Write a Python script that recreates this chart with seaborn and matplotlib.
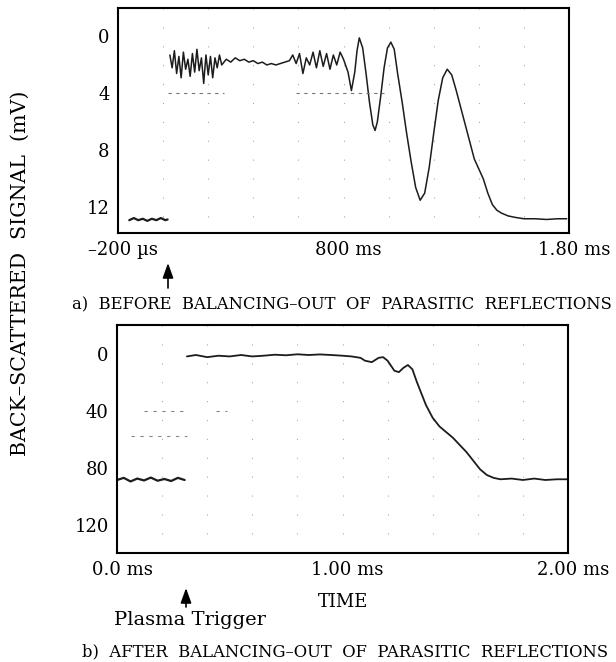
import numpy as np
import pandas as pd
import matplotlib
matplotlib.use("Agg")
import matplotlib.pyplot as plt
import matplotlib.transforms as mtransforms
from matplotlib.patches import FancyArrowPatch
import seaborn as sns

# ---------------- data ----------------
# a) before balancing-out: time in ms, signal in mV
top_pre_t = [-0.15, -0.13, -0.11, -0.09, -0.07, -0.05, -0.03, -0.01, 0.01, 0.02]
top_pre_v = [12.9, 12.75, 12.9, 12.8, 12.95, 12.8, 12.9, 12.75, 12.9, 12.85]

top_t = [0.03, 0.04, 0.05, 0.06, 0.07, 0.08, 0.09, 0.10, 0.11, 0.12, 0.13, 0.14,
         0.15, 0.16, 0.17, 0.18, 0.19, 0.20, 0.21, 0.22, 0.23, 0.24, 0.25, 0.26,
         0.28, 0.30, 0.32, 0.34, 0.36, 0.38, 0.40, 0.42, 0.44, 0.46, 0.48, 0.50,
         0.52, 0.54, 0.56,
         0.575, 0.59, 0.605, 0.62, 0.635, 0.65, 0.665, 0.68, 0.695, 0.71, 0.725,
         0.74, 0.755, 0.77, 0.785, 0.80,
         0.82, 0.835, 0.85, 0.86, 0.87, 0.885, 0.90, 0.915, 0.93, 0.94, 0.95,
         0.965, 0.98, 0.995, 1.01, 1.025, 1.04, 1.06, 1.08, 1.10, 1.12, 1.14,
         1.16, 1.18, 1.20, 1.22, 1.24, 1.26, 1.28, 1.30, 1.32, 1.34, 1.36, 1.38,
         1.40, 1.42, 1.44, 1.46, 1.48, 1.50, 1.53, 1.56, 1.60, 1.65, 1.70, 1.75,
         1.79]
top_v = [1.3, 2.2, 1.0, 2.6, 1.4, 2.9, 1.1, 2.3, 1.6, 2.8, 1.2, 2.5,
         0.9, 2.4, 1.5, 3.3, 1.3, 2.7, 1.4, 2.9, 1.5, 2.2, 1.3, 2.0,
         1.6, 1.8, 1.5, 1.7, 1.6, 1.8, 1.7, 1.9, 1.8, 2.0, 1.9, 2.0,
         1.9, 1.8, 1.7,
         1.3, 1.9, 1.2, 2.6, 1.5, 2.0, 1.1, 2.2, 1.0, 2.1, 1.2,
         2.3, 1.3, 2.0, 1.1, 1.6,
         2.5, 3.8, 2.5, 1.0, 0.1, 0.8, 2.6, 4.6, 6.2, 6.6, 6.0,
         4.2, 2.2, 0.8, 0.4, 0.9, 2.6, 4.6, 6.8, 8.8, 10.6, 11.5,
         11.0, 9.2, 6.8, 4.5, 2.9, 2.3, 2.7, 3.8, 5.0, 6.2, 7.4, 8.6,
         9.3, 10.0, 11.0, 11.8, 12.2, 12.4, 12.6, 12.7, 12.8, 12.8, 12.85, 12.8,
         12.8]

# b) after balancing-out
bot_pre_t = [0.0, 0.03, 0.06, 0.09, 0.12, 0.15, 0.18, 0.21, 0.24, 0.27, 0.30]
bot_pre_v = [88.5, 87.0, 89.5, 87.5, 88.8, 86.8, 89.0, 87.8, 89.2, 87.0, 88.5]

bot_t = [0.31, 0.35, 0.40, 0.45, 0.50, 0.55, 0.60, 0.65, 0.70, 0.75, 0.80, 0.85,
         0.90, 0.95, 1.00, 1.04, 1.08, 1.10, 1.13, 1.16, 1.18, 1.20, 1.23, 1.25,
         1.27, 1.29, 1.31, 1.33, 1.35, 1.37, 1.40, 1.43, 1.46, 1.49, 1.52, 1.55,
         1.58, 1.61, 1.64, 1.67, 1.70, 1.75, 1.80, 1.85, 1.90, 1.95, 2.00]
bot_v = [2.0, 1.0, 2.5, 1.5, 2.0, 1.0, 2.0, 1.5, 0.8, 1.2, 0.5, 1.0,
         0.6, 1.0, 1.5, 2.0, 3.0, 5.0, 6.0, 3.0, 2.5, 5.0, 12.0, 13.0,
         10.0, 8.0, 11.0, 20.0, 28.0, 36.0, 45.0, 51.0, 55.0, 59.0, 64.0, 69.0,
         75.0, 81.0, 85.0, 87.0, 88.0, 87.5, 88.5, 87.5, 88.5, 88.0, 88.0]

# faint graticule artefacts (level, start, end)
top_art = [(4.0, 0.02, 0.27), (4.0, 0.59, 0.98)]
bot_art = [(40.0, 0.12, 0.31), (40.0, 0.44, 0.49), (58.0, 0.06, 0.31)]

top_xticks = [-0.2, 0.8, 1.8]
top_xlabels = ["\u2013200 \u00b5s", "800 ms", "1.80 ms"]
top_yticks = [0, 4, 8, 12]
bot_xticks = [0.0, 1.0, 2.0]
bot_xlabels = ["0.0 ms", "1.00 ms", "2.00 ms"]
bot_yticks = [0, 40, 80, 120]

# ---------------- figure ----------------
sns.set_style("white")
plt.rcParams["font.family"] = ["DejaVu Serif", "DejaVu Sans"]
plt.rcParams["text.color"] = "black"
plt.rcParams["xtick.color"] = "black"
plt.rcParams["ytick.color"] = "black"

W, H = 616, 662
fig = plt.figure(figsize=(W / 100, H / 100), dpi=100)

def frac_box(l, t, r, b):
    return [l / W, 1 - b / H, (r - l) / W, (b - t) / H]

ax1 = fig.add_axes(frac_box(118, 8, 569, 233))
ax2 = fig.add_axes(frac_box(117, 325, 568, 553))

ink = "#1c1c1c"

def draw(ax, t, v, lw=1.2):
    sns.lineplot(x=t, y=v, ax=ax, color=ink, linewidth=lw, sort=False,
                 estimator=None, legend=False)

draw(ax1, top_pre_t, top_pre_v, 1.6)
draw(ax1, top_t, top_v, 1.1)
draw(ax2, bot_pre_t, bot_pre_v, 1.6)
draw(ax2, bot_t, bot_v, 1.3)

for lvl, a, b in top_art:
    ax1.hlines(lvl, a, b, color="#777777", lw=0.8, linestyles=(0, (3, 4)))
for lvl, a, b in bot_art:
    ax2.hlines(lvl, a, b, color="#888888", lw=0.8, linestyles=(0, (3, 5)))

# sparse graticule dots
for ax, xs, ylims in [(ax1, np.arange(0.0, 1.61, 0.2), (-2.0, 13.8)),
                      (ax2, np.arange(0.2, 1.81, 0.2), (-20, 139.6))]:
    ax.vlines(xs, ylims[0], ylims[1], color="#aaaaaa", lw=0.8,
              linestyles=(0, (1, 16)), zorder=0)

ax1.set_xlim(-0.2, 1.8)
ax1.set_ylim(13.8, -2.0)
ax2.set_xlim(0.0, 2.0)
ax2.set_ylim(139.6, -20)

offset = mtransforms.ScaledTranslation(5 / 100, 0, fig.dpi_scale_trans)
for ax, xt, xl, yt in [(ax1, top_xticks, top_xlabels, top_yticks),
                       (ax2, bot_xticks, bot_xlabels, bot_yticks)]:
    ax.set_xticks(xt)
    ax.set_xticklabels(xl, fontsize=13, color="black")
    ax.set_yticks(yt)
    ax.set_yticklabels([str(v) for v in yt], fontsize=13, color="black")
    ax.tick_params(axis="x", direction="in", length=8, width=1.2, pad=6,
                   colors="black")
    ax.tick_params(axis="y", length=0, pad=6)
    for lab in ax.get_xticklabels():
        lab.set_transform(lab.get_transform() + offset)
    for sp in ax.spines.values():
        sp.set_visible(True)
        sp.set_color("black")
        sp.set_linewidth(1.5)
    ax.set_xlabel("")
    ax.set_ylabel("")
    ax.grid(False)

# texts
fig.text(20 / W, 1 - 273 / H, "BACK\u2013SCATTERED  SIGNAL  (mV)", rotation=90,
         ha="center", va="center", fontsize=14.8, color="black")
fig.text(342 / W, 1 - 305 / H,
         "a)  BEFORE  BALANCING\u2013OUT  OF  PARASITIC  REFLECTIONS",
         ha="center", va="center", fontsize=11.8, color="black")
fig.text(345 / W, 1 - 652 / H,
         "b)  AFTER  BALANCING\u2013OUT  OF  PARASITIC  REFLECTIONS",
         ha="center", va="center", fontsize=11.8, color="black")
fig.text(343 / W, 1 - 602 / H, "TIME", ha="center", va="center", fontsize=13,
         color="black")
fig.text(190 / W, 1 - 620 / H, "Plasma Trigger", ha="center", va="center",
         fontsize=14, color="black")

for x, y0, y1 in [(168, 288, 263), (186, 607, 588)]:
    fig.add_artist(FancyArrowPatch(
        (x / W, 1 - y0 / H), (x / W, 1 - y1 / H), transform=fig.transFigure,
        arrowstyle="-|>,head_length=0.5,head_width=0.18", mutation_scale=18,
        color="black", lw=1.2, shrinkA=0, shrinkB=0))

fig.savefig("out.png", dpi=100)
